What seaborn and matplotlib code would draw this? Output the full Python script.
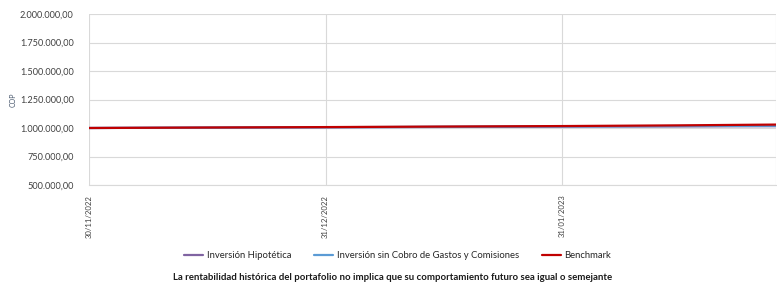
import pandas as pd
import numpy as np

import matplotlib
matplotlib.use("Agg")
import matplotlib.pyplot as plt
import matplotlib.ticker as mticker
import seaborn as sns

# ==============================
# DATA
# ==============================

fechas = ["2022-11-30", "2022-12-15", "2022-12-31", "2023-01-15",
          "2023-01-31", "2023-02-15", "2023-02-28"]
inversion_hipotetica = [1000000, 1003000, 1006000, 1009000, 1012000, 1014000, 1016000]
inversion_sin_cobro = [1000000, 1003500, 1007000, 1010500, 1014000, 1017000, 1020000]
benchmark = [1000000, 1004000, 1008000, 1012500, 1017000, 1023000, 1030000]

tick_fechas = ["2022-11-30", "2022-12-31", "2023-01-31", "2023-02-28"]
# the last label is cut off by the chart edge in the original
tick_labels = ["30/11/2022", "31/12/2022", "31/01/2023", ""]
series_nombres = ["Inversión Hipotética",
                  "Inversión sin Cobro de Gastos y Comisiones",
                  "Benchmark"]
colores = ["#8064A2", "#5B9BD5", "#C00000"]

df = pd.DataFrame({
    "Fecha": pd.to_datetime(fechas),
    series_nombres[0]: inversion_hipotetica,
    series_nombres[1]: inversion_sin_cobro,
    series_nombres[2]: benchmark,
})
df_long = df.melt(id_vars="Fecha", var_name="Serie", value_name="Valor")

# ==============================
# PLOT
# ==============================

sns.set_style("white")
plt.rcParams["font.family"] = ["Lato", "DejaVu Sans"]

fig = plt.figure(figsize=(7.77, 2.88), dpi=100)
ax = fig.add_axes([89 / 777, 1 - 185 / 288, (776 - 89) / 777, (185 - 14) / 288])

sns.lineplot(data=df_long, x="Fecha", y="Valor", hue="Serie",
             hue_order=series_nombres, palette=colores, ax=ax,
             linewidth=1.6, legend=False)

ax.set_ylim(500000, 2000000)
ax.set_xlim(pd.Timestamp(tick_fechas[0]), pd.Timestamp(tick_fechas[-1]))
ax.yaxis.set_major_locator(mticker.MultipleLocator(250000))
ax.yaxis.set_major_formatter(mticker.FuncFormatter(
    lambda v, p: f"{v:,.2f}".replace(",", "X").replace(".", ",").replace("X", ".")))

ax.set_xticks(pd.to_datetime(tick_fechas))
ax.set_xticklabels(tick_labels, rotation=90)

ax.grid(True, color="#D9D9D9", linewidth=0.8)
for s in ["top", "right", "left"]:
    ax.spines[s].set_visible(False)
ax.spines["bottom"].set_color("#D9D9D9")
ax.tick_params(axis="y", length=0, labelsize=6.6, pad=11, colors="#404040")
ax.tick_params(axis="x", length=4, color="#D9D9D9", labelsize=5.6, pad=3, colors="#404040")
ax.set_xlabel("")
ax.set_ylabel("COP", fontsize=5, color="#44546A", labelpad=2)

handles = [plt.Line2D([0], [0], color=c, linewidth=1.6) for c in colores]
fig.legend(handles, series_nombres, loc="center", bbox_to_anchor=(0.512, 1 - 256 / 288),
           ncol=3, frameon=False, fontsize=6.8, handlelength=2.0,
           handletextpad=0.4, columnspacing=2.4)

fig.text(0.505, 1 - 278 / 288,
         "La rentabilidad histórica del portafolio no implica que su comportamiento futuro sea igual o semejante",
         ha="center", va="center", fontsize=6.9, fontweight="bold", color="#1A1A1A")

plt.savefig("out.png", dpi=100)
